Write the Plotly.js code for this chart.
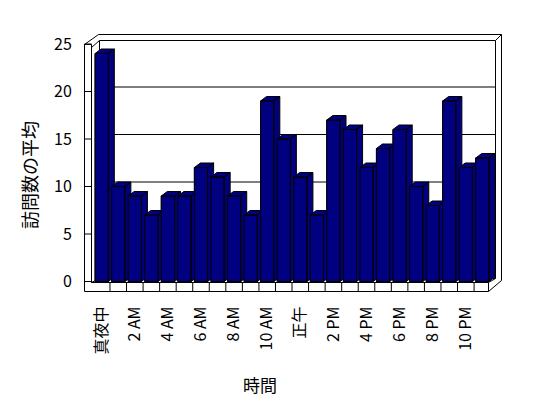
<!DOCTYPE html>
<html><head><meta charset="utf-8">
<script src="https://cdn.plot.ly/plotly-3.0.1.min.js"></script>
<style>html,body{margin:0;padding:0;background:#fff}#chart{width:548px;height:398px}</style>
</head><body><div id="chart"></div>
<script>
// ---- data ----
const hours = ['真夜中','1 AM','2 AM','3 AM','4 AM','5 AM','6 AM','7 AM','8 AM','9 AM','10 AM','11 AM',
               '正午','1 PM','2 PM','3 PM','4 PM','5 PM','6 PM','7 PM','8 PM','9 PM','10 PM','11 PM'];
const visits = [24,10,9,7,9,9,12,11,9,7,19,15,11,7,17,16,12,14,16,10,8,19,12,13];
const yTickVals = [0,5,10,15,20,25];
const xTickIdx = [0,2,4,6,8,10,12,14,16,18,20,22];
const xTitle = '時間';
const yTitle = '訪問数の平均';

// ---- geometry (pixel layout helpers) ----
const W = 548, H = 398;
const L = 80, R = 505, T = 30, B = 296;
const PX0 = 101.7, PXS = 16.55, PY0 = 281.5, PYS = 9.5;
const cx = px => (px - PX0) / PXS;
const vy = py => (PY0 - py) / PYS;
const P = (px, py) => cx(px) + ',' + vy(py);
const HW = 0.4, DX = 6 / PXS, DY = 4.5 / PYS;
const FONT = '"Noto Sans CJK JP", "DejaVu Sans", sans-serif';
const NAVY = '#000080';

const idx = visits.map((_, i) => i);
const traces = [{
  type: 'bar', x: idx, y: visits, width: 2 * HW,
  marker: {color: NAVY, line: {color: '#000', width: 1}}, hoverinfo: 'skip'
}];
visits.forEach((v, c) => {
  const a = c - HW, b = c + HW;
  traces.push({
    type: 'scatter', mode: 'lines', fill: 'toself', fillcolor: NAVY,
    line: {color: '#000', width: 1}, hoverinfo: 'skip',
    x: [a, a, b, b, a, null, a, a + DX, b + DX, b, a, null, b, b + DX, b + DX, b, b],
    y: [0, v, v, 0, 0, null, v, v + DY, v + DY, v, v, null, 0, DY, v + DY, v, 0]
  });
});

// ---- frame (walls & floor) ----
const line = {color: '#000', width: 1};
const shapes = [];
const path = (pts, fill) => shapes.push({
  type: 'path', xref: 'x', yref: 'y', layer: 'below',
  path: 'M' + pts.map(p => P(p[0], p[1])).join('L') + (fill ? 'Z' : ''),
  fillcolor: fill ? '#fff' : 'rgba(0,0,0,0)', line
});
path([[84.5,44.5],[98.5,34.5],[501.5,34.5],[501.5,280.5],[488.5,291.5],[84.5,291.5]], true);
path([[84.5,44.5],[91.5,44.5],[91.5,282.5],[488.5,282.5],[488.5,291.5]]);
path([[91.5,47.5],[99.5,40.5],[495.5,40.5],[501.5,34.5]]);
path([[99.5,40.5],[99.5,278.5],[495.5,278.5],[495.5,40.5]]);
path([[91.5,282.5],[99.5,278.5]]);
path([[488.5,282.5],[495.5,278.5]]);
// back-wall gridlines
yTickVals.slice(1, -1).forEach(v => shapes.push({
  type: 'line', xref: 'x', yref: 'y', layer: 'below',
  x0: cx(99.5), x1: cx(495.5), y0: v + DY, y1: v + DY, line
}));
// wall tick marks
yTickVals.forEach(v => shapes.push({
  type: 'line', xref: 'x', yref: 'y', layer: 'below',
  x0: cx(84.5), x1: cx(91.5), y0: v, y1: v, line
}));
// floor front dividers
idx.slice(0, -1).forEach(c => shapes.push({
  type: 'line', xref: 'x', yref: 'y', layer: 'below',
  x0: c + 0.5, x1: c + 0.5, y0: vy(282.5), y1: vy(291.5), line
}));

const pw = W - L - (W - R), ph = B - T;
const layout = {
  width: W, height: H,
  margin: {l: L, r: W - R, t: T, b: H - B, pad: 0},
  paper_bgcolor: '#fff', plot_bgcolor: 'rgba(0,0,0,0)',
  showlegend: false, barmode: 'overlay',
  font: {family: FONT, size: 16, color: '#000'},
  xaxis: {
    range: [cx(L), cx(R)], tickmode: 'array', tickvals: xTickIdx,
    ticktext: xTickIdx.map(i => hours[i]), tickangle: -90,
    showgrid: false, zeroline: false, showline: false,
    ticks: 'outside', ticklen: 3, tickcolor: 'rgba(0,0,0,0)',
    tickfont: {family: FONT, size: 16, color: '#000'}, fixedrange: true
  },
  yaxis: {
    range: [vy(B), vy(T)], tickmode: 'array', tickvals: yTickVals,
    showgrid: false, zeroline: false, showline: false,
    ticks: 'outside', ticklen: 4, tickcolor: 'rgba(0,0,0,0)',
    tickfont: {family: FONT, size: 16, color: '#000'}, fixedrange: true
  },
  shapes,
  annotations: [
    {text: xTitle, xref: 'paper', yref: 'paper', x: (260 - L) / pw, y: (B - 384) / ph,
     xanchor: 'center', yanchor: 'middle', showarrow: false, font: {family: FONT, size: 17}},
    {text: yTitle, xref: 'paper', yref: 'paper', x: (29 - L) / pw, y: (B - 175) / ph,
     xanchor: 'center', yanchor: 'middle', textangle: -90, showarrow: false, font: {family: FONT, size: 18}}
  ]
};
Plotly.newPlot('chart', traces, layout, {staticPlot: true, displayModeBar: false});
</script></body></html>
